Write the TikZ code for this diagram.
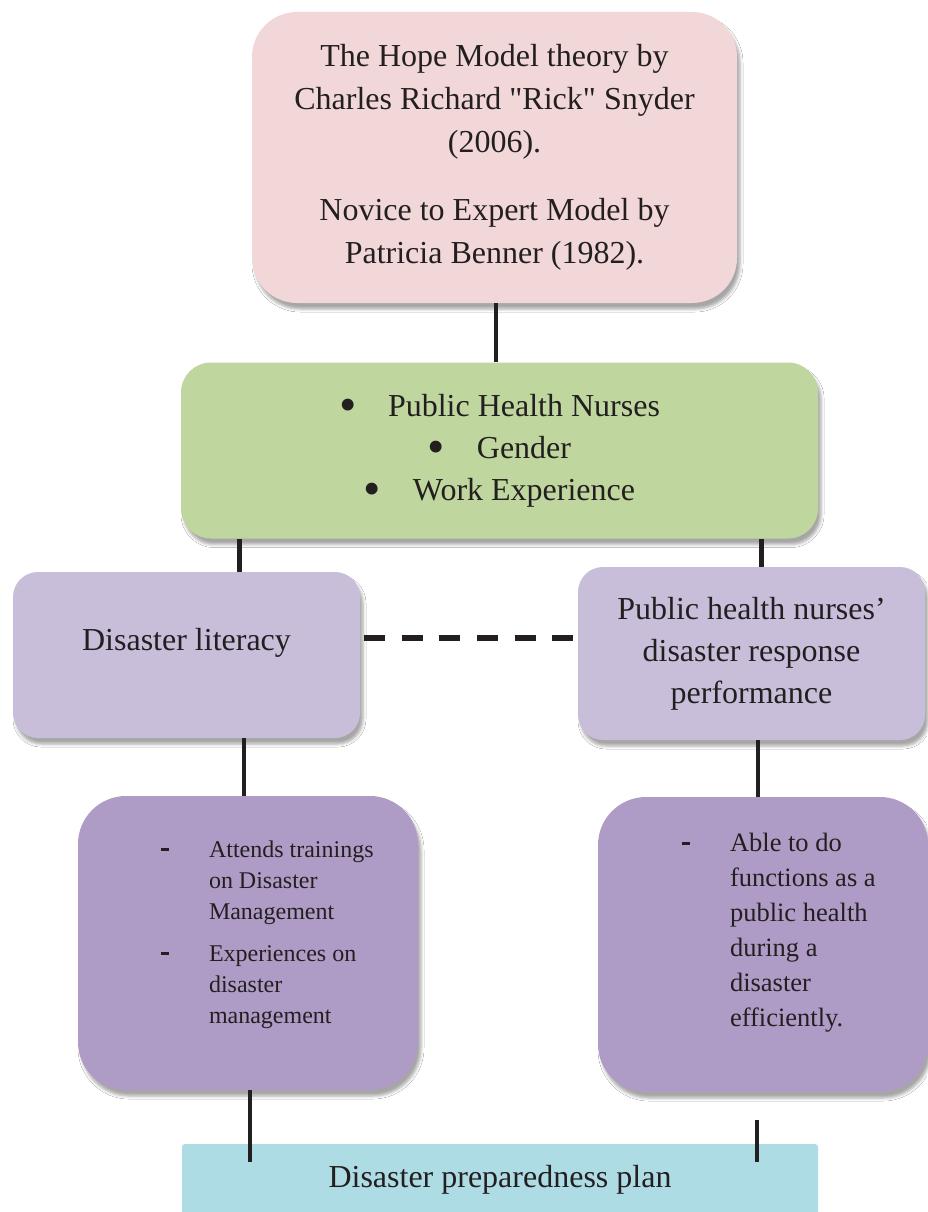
\documentclass[tikz,border=0pt]{standalone}
\usepackage{fontspec}
\setmainfont{Liberation Serif}[Ligatures=TeXOff]
\usetikzlibrary{positioning,shadows.blur}
\definecolor{Blush}{HTML}{F2D7D8}
\definecolor{Sage}{HTML}{BFD79E}
\definecolor{Lilac}{HTML}{C9BEDA}
\definecolor{Plum}{HTML}{AF9CC6}
\definecolor{Aqua}{HTML}{AEDCE4}
\definecolor{Ink}{HTML}{231F20}
\newcommand{\gbullet}{\makebox[49pt][l]{\raisebox{-5.5pt}{\scalebox{1.55}{\textbullet}}}}
\newcommand{\dashcell}{\makebox[48pt][l]{\rule[7pt]{8pt}{2.6pt}}}

\begin{document}
\begin{tikzpicture}[x=1pt,y=-1pt,
  panel/.style={rounded corners=#1,inner sep=0pt,align=center,text=Ink,
    blur shadow={shadow xshift=3pt,shadow yshift=-6pt,shadow blur radius=3pt,shadow opacity=35}},
  panel/.default=25pt,
  big/.style={font=\fontsize{32}{42}\selectfont},
  listtext/.style={inner sep=0pt,text=Ink,anchor=base west},
  link/.style={draw=Ink,line width=4.5pt}]
  \useasboundingbox (0,0) rectangle (927,1212);
  \fill[white] (0,0) rectangle (927,1212);
  \node[panel=45pt,fill=Blush,big,font=\fontsize{32}{43}\selectfont,minimum width=485pt,minimum height=291pt] (hope) at (494.5,157.5)
    {The Hope Model theory by\\Charles Richard "Rick" Snyder\\(2006).\\[25pt]Novice to Expert Model by\\Patricia Benner (1982).};
  \node[panel=30pt,fill=Sage,big,minimum width=637pt,minimum height=176pt] (traits) at (499.5,450.5)
    {\gbullet Public Health Nurses\\\gbullet Gender\\\gbullet Work Experience};
  \node[panel,fill=Lilac,big,minimum width=347pt,minimum height=166pt,text depth=32pt] (lit) at (186.5,655) {Disaster literacy};
  \node[panel,fill=Lilac,big,minimum width=347pt,minimum height=173pt] (resp) at (751.5,653.5)
    {Public health nurses’\\disaster response\\performance};
  \node[panel=48pt,fill=Plum,minimum width=340pt,minimum height=294pt] (litbox) at (248,943) {};
  \node[panel=48pt,fill=Plum,minimum width=330pt,minimum height=295pt] (respbox) at (763,944.5) {};
  \node[listtext,font=\fontsize{24}{31}\selectfont,at={([xshift=83pt,yshift=-62pt]litbox.north west)}] (litlist)
    {\begin{tabular}[t]{@{}l@{}l@{}}
      \dashcell & Attends trainings\\ & on Disaster\\ & Management\\[11pt]
      \dashcell & Experiences on\\ & disaster\\ & management
    \end{tabular}};
  \node[listtext,font=\fontsize{26.5}{35}\selectfont,at={([xshift=84pt,yshift=-55pt]respbox.north west)}] (resplist)
    {\begin{tabular}[t]{@{}l@{}l@{}}
      \dashcell & Able to do\\ & functions as a\\ & public health\\ & during a\\ & disaster\\ & efficiently.
    \end{tabular}};
  \node[rounded corners=3pt,inner sep=0pt,text=Ink,fill=Aqua,big,minimum width=636pt,minimum height=72pt] (plan) at (500,1180)
    {Disaster preparedness plan};

  \coordinate (tl) at ([xshift=58.5pt]traits.south west);
  \coordinate (tr) at ([xshift=-56.5pt]traits.south east);
  \coordinate (ml) at ([xshift=57.5pt]lit.south);
  \coordinate (mr) at ([xshift=6.5pt]resp.south);
  \coordinate (bl) at ([xshift=2pt]litbox.south);
  \coordinate (br) at ([xshift=-6pt,yshift=-28pt]respbox.south);
  \coordinate (dl) at ([xshift=4pt,yshift=17pt]lit.east);
  \draw[link] ([xshift=1.5pt]hope.south) -- ([xshift=1.5pt]hope.south |- traits.north);
  \draw[link] (tl) -- (tl |- lit.north);
  \draw[link] (tr) -- (tr |- resp.north);
  \draw[link] (ml) -- (ml |- litbox.north);
  \draw[link] (mr) -- (mr |- respbox.north);
  \draw[link] (bl) -- (bl |- plan.north) -- ++(0,18);
  \draw[link] (br) -- (br |- plan.north) -- ++(0,18);
  \draw[link,line width=6.5pt,dash pattern=on 21pt off 16.6pt] (dl) -- ([xshift=-4pt]dl -| resp.west);
\end{tikzpicture}
\end{document}
